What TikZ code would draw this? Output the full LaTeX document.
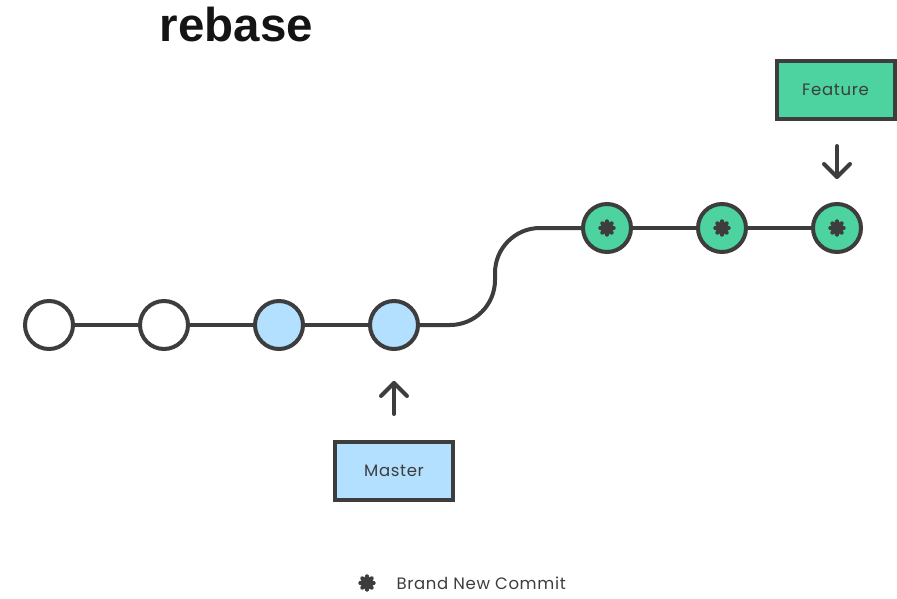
\documentclass[tikz,border=0pt]{standalone}
\usepackage{fontspec}
\setmainfont{Poppins}[LetterSpace=4]
\newfontfamily\titlefont{Liberation Sans}
\definecolor{ink}{HTML}{3D3D3D}
\definecolor{lblue}{HTML}{B3E0FF}
\definecolor{lgreen}{HTML}{4CD3A0}
\tikzset{
  commit/.style={circle, draw=ink, line width=4pt, minimum size=48pt, inner sep=0pt},
  plain/.style={commit, fill=white},
  bluec/.style={commit, fill=lblue},
  greenc/.style={commit, fill=lgreen},
  branchbox/.style={draw=ink, line width=4pt, minimum width=118pt, minimum height=58pt, inner sep=0pt, font=\fontsize{16.5}{18}\selectfont, text=ink},
  edge/.style={draw=ink, line width=4pt},
  pointer/.style={draw=ink, line width=4pt, line cap=round, line join=round},
  pics/flower/.style={code={
    \fill[ink] (0,0) circle (4pt);
    \foreach \a in {0,45,...,315} \fill[ink, rotate=\a] (5.2pt,0) ellipse (3.6pt and 2.4pt);
  }}
}
\begin{document}
\begin{tikzpicture}[x=1pt,y=-1pt]
\useasboundingbox (0,0) rectangle (897,599);
\node[font=\titlefont\bfseries\fontsize{47.5}{50}\selectfont, text=black!92] (title) at (236.5,25) {rebase};
\node[plain] (c1) at (49,325) {};
\node[plain] (c2) at (164,325) {};
\node[bluec] (c3) at (279,325) {};
\node[bluec] (c4) at (394,325) {};
\node[greenc] (g1) at (607,228) {};
\node[greenc] (g2) at (722,228) {};
\node[greenc] (g3) at (837,228) {};
\foreach \n in {g1,g2,g3} \pic at (\n) {flower};
\draw[edge] (c1) -- (c2);
\draw[edge] (c2) -- (c3);
\draw[edge] (c3) -- (c4);
\draw[edge] (g1) -- (g2);
\draw[edge] (g2) -- (g3);
\draw[edge] (c4.east) -- (450,325) arc[start angle=90, end angle=0, radius=45] -- (495,273) arc[start angle=180, end angle=270, radius=45] -- (g1.west);
\node[branchbox, fill=lblue] (master) at (394,470.5) {Master};
\node[branchbox, fill=lgreen] (feature) at (835.5,90) {Feature};
\coordinate (mtail) at (394,414);
\coordinate (mhead) at (394,383);
\coordinate (ftail) at (837,146);
\coordinate (fhead) at (837,177);
\draw[pointer] (mtail) -- (mhead);
\draw[pointer] (mhead) ++(-13,13) -- (mhead) -- ++(13,13);
\draw[pointer] (ftail) -- (fhead);
\draw[pointer] (fhead) ++(-13,-13) -- (fhead) -- ++(13,-13);
\pic at (367,583) {flower};
\node[anchor=west, font=\fontsize{16.5}{18}\selectfont, text=ink] (legend) at (393,583) {Brand New Commit};
\end{tikzpicture}
\end{document}
